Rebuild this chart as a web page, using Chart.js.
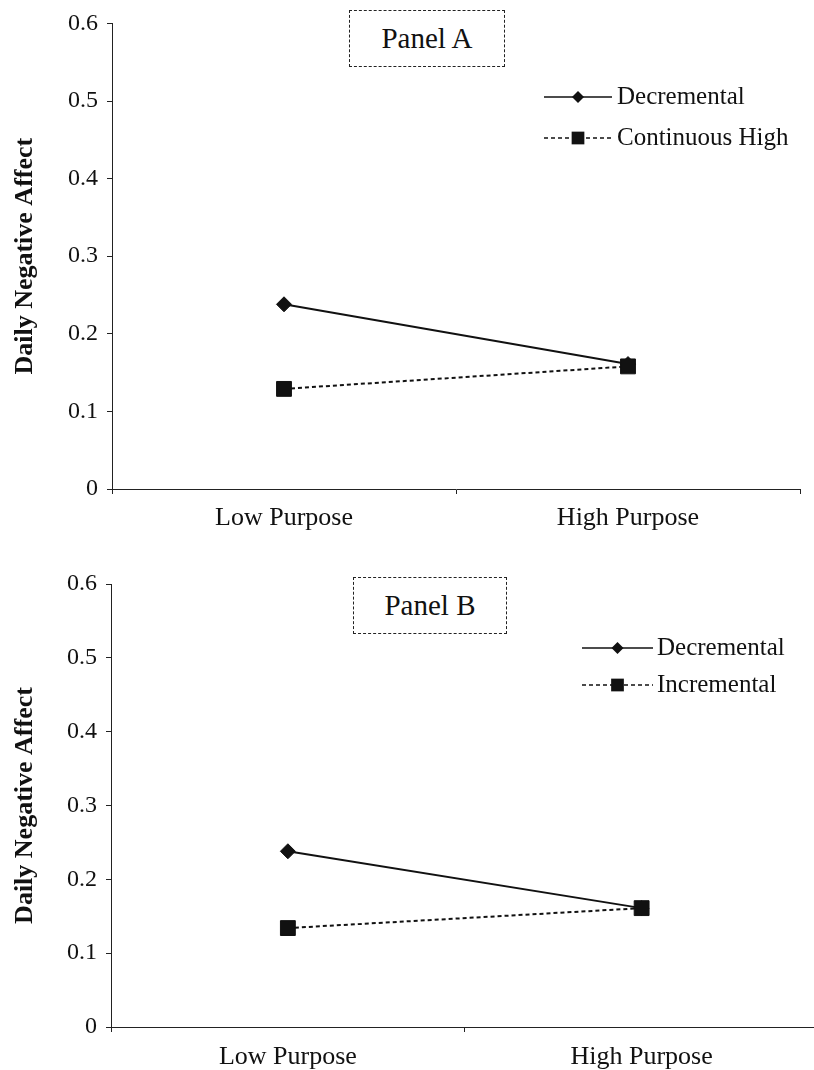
<!DOCTYPE html>
<html>
<head>
<meta charset="utf-8">
<script src="https://cdn.jsdelivr.net/npm/chart.js@4.4.0/dist/chart.umd.min.js"></script>
<style>
  html, body { margin: 0; padding: 0; background: #fff; width: 814px; height: 1070px; overflow: hidden; }
  .wrap { position: absolute; left: 0; }
  .panelBox { position: absolute; border: 1px dashed #222; box-sizing: border-box;
              font-family: 'Liberation Serif', 'Times New Roman', serif; font-size: 29px; color: #111;
              display: flex; align-items: center; justify-content: center; background: #fff; }
</style>
</head>
<body>
<div class="wrap" style="top:0; width:814px; height:550px;"><canvas id="chartA" width="814" height="550"></canvas></div>
<div class="wrap" style="top:560px; width:830px; height:510px;"><canvas id="chartB" width="830" height="510"></canvas></div>
<div class="panelBox" style="left:349px; top:10px; width:156px; height:57px;">Panel A</div>
<div class="panelBox" style="left:353px; top:577px; width:154px; height:57px;">Panel B</div>
<script>
// ---- data ----
const categories = ['Low Purpose', 'High Purpose'];
const yTickLabels = ['0', '0.1', '0.2', '0.3', '0.4', '0.5', '0.6'];
const panelALabels = ['Decremental', 'Continuous High'];
const panelADecremental = [0.238, 0.161];
const panelAContinuousHigh = [0.129, 0.158];
const panelBLabels = ['Decremental', 'Incremental'];
const panelBDecremental = [0.238, 0.161];
const panelBIncremental = [0.134, 0.161];
const yAxisTitle = 'Daily Negative Affect';

const SERIF = "'Liberation Serif', 'Times New Roman', serif";
Chart.defaults.font.family = SERIF;
Chart.defaults.color = '#111';

function drawMarker(ctx, style, x, y, r) {
  ctx.beginPath();
  if (style === 'rectRot') {
    ctx.moveTo(x, y - r); ctx.lineTo(x + r, y); ctx.lineTo(x, y + r); ctx.lineTo(x - r, y);
  } else {
    const h = r * Math.SQRT1_2;
    ctx.rect(x - h, y - h, 2 * h, 2 * h);
  }
  ctx.closePath();
  ctx.fill();
}

const lineLegend = {
  id: 'lineLegend',
  afterDraw(chart, args, opts) {
    const ctx = chart.ctx;
    chart.data.datasets.forEach((ds, i) => {
      const y = opts.y[i];
      ctx.save();
      ctx.strokeStyle = ds.borderColor;
      ctx.lineWidth = 1.5;
      ctx.setLineDash(ds.borderDash || []);
      ctx.beginPath();
      ctx.moveTo(opts.x0, y); ctx.lineTo(opts.x1, y);
      ctx.stroke();
      ctx.setLineDash([]);
      ctx.fillStyle = ds.pointBackgroundColor;
      drawMarker(ctx, ds.pointStyle, (opts.x0 + opts.x1) / 2, y, ds.pointStyle === 'rectRot' ? 6 : 9);
      ctx.fillStyle = '#111';
      ctx.font = '25px ' + SERIF;
      ctx.textBaseline = 'middle';
      ctx.textAlign = 'left';
      ctx.fillText(ds.label, opts.tx, y);
      ctx.restore();
    });
  }
};

function makeChart(id, labels, s1, s2, cfg) {
  return new Chart(document.getElementById(id), {
    type: 'line',
    data: {
      labels: categories,
      datasets: [
        { label: labels[0], data: s1, borderColor: '#111', borderWidth: 2, borderDash: [],
          pointStyle: 'rectRot', pointRadius: 7.5, pointBackgroundColor: '#111', pointBorderColor: '#111',
          pointBorderWidth: 1, order: 2 },
        { label: labels[1], data: s2, borderColor: '#111', borderWidth: 2, borderDash: [4, 3],
          pointStyle: 'rect', pointRadius: 10.5, pointBackgroundColor: '#111', pointBorderColor: '#111',
          pointBorderWidth: 1, order: 1 }
      ]
    },
    options: {
      responsive: false,
      animation: false,
      layout: { padding: { left: 7, right: cfg.padRight, top: cfg.padTop, bottom: 0 } },
      plugins: {
        legend: { display: false },
        tooltip: { enabled: false },
        lineLegend: cfg.legend
      },
      scales: {
        x: {
          type: 'category',
          offset: true,
          grid: { display: true, drawOnChartArea: false, offset: true, tickLength: 5, color: '#222', lineWidth: 1 },
          border: { display: true, color: '#222', width: 1 },
          ticks: { font: { size: 26 }, color: '#111', padding: cfg.xPad, maxRotation: 0 },
          afterFit(scale) { scale.height = cfg.xHeight; }
        },
        y: {
          min: 0, max: 0.6,
          ticks: { stepSize: 0.1, font: { size: 24 }, color: '#111', padding: 9,
                   callback: (v, i) => yTickLabels[i] },
          grid: { display: true, drawOnChartArea: false, tickLength: 5, color: '#222', lineWidth: 1 },
          border: { display: true, color: '#222', width: 1 },
          title: { display: true, text: yAxisTitle, font: { size: 26, weight: 'bold' }, color: '#111',
                   padding: { top: 3, bottom: 4 } },
          afterFit(scale) { scale.width = cfg.yWidth; }
        }
      }
    },
    plugins: [lineLegend]
  });
}

makeChart('chartA', panelALabels, panelADecremental, panelAContinuousHigh, {
  padRight: 14, padTop: 20, xHeight: 61, xPad: 9, yWidth: 105,
  legend: { x0: 544, x1: 612, tx: 617, y: [97, 138] }
});
makeChart('chartB', panelBLabels, panelBDecremental, panelBIncremental, {
  padRight: 9, padTop: 24, xHeight: 43, xPad: 10, yWidth: 104,
  legend: { x0: 582, x1: 653, tx: 657, y: [88, 125] }
});
</script>
</body>
</html>
